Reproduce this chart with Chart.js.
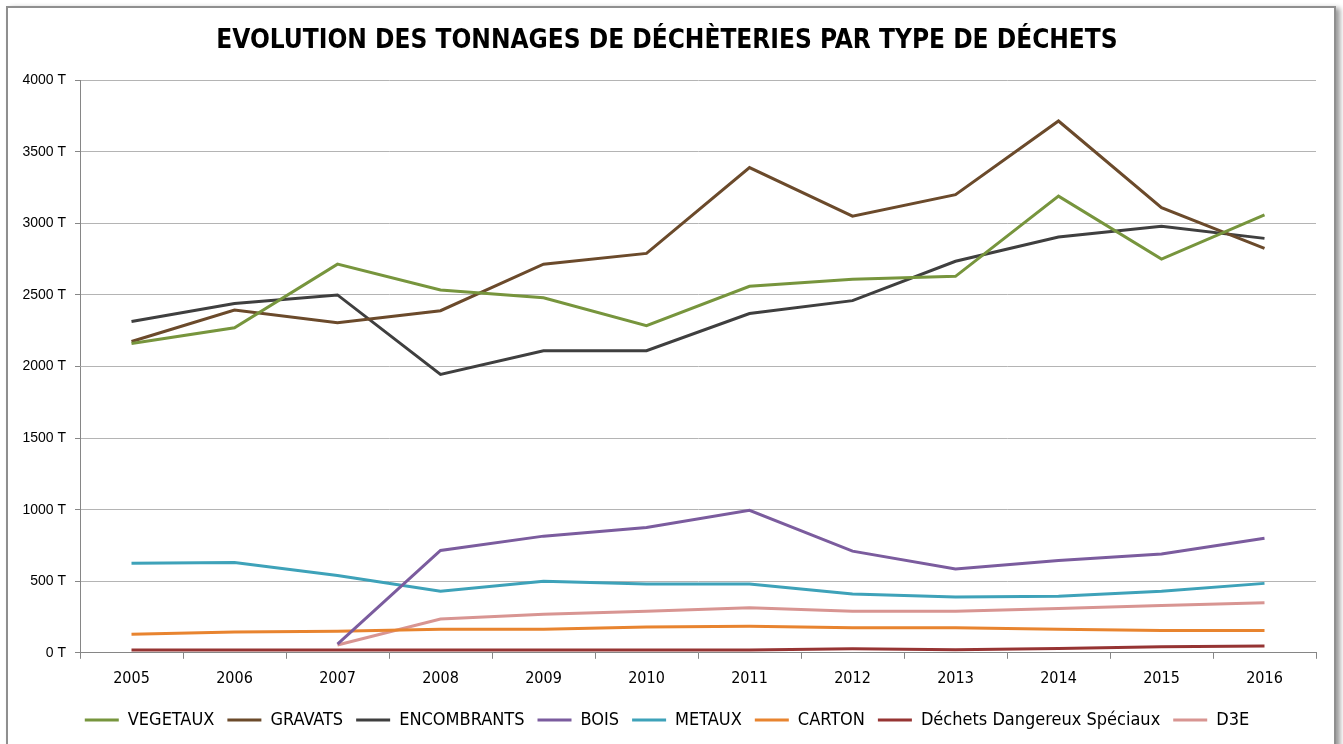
<!DOCTYPE html>
<html>
<head>
<meta charset="utf-8">
<script src="https://cdn.jsdelivr.net/npm/chart.js@4/dist/chart.umd.min.js"></script>
<style>
  body { margin: 0; background: #fff; overflow: hidden; }
  #frame {
    position: absolute; left: 6px; top: 6px; width: 1326px; height: 760px;
    border: 2px solid #8f8f8f; box-shadow: 4px 2px 5px #9a9a9a;
  }
  #wrap { position: absolute; left: 18px; top: 0; width: 1325px; height: 744px; }
</style>
</head>
<body>
<div id="frame"></div>
<div id="wrap"><canvas id="chart" width="1325" height="744"></canvas></div>
<script>
const years = ['2005', '2006', '2007', '2008', '2009', '2010', '2011', '2012', '2013', '2014', '2015', '2016'];

const vegetaux    = [2160, 2270, 2715, 2535, 2480, 2285, 2560, 2610, 2630, 3190, 2750, 3060];
const gravats     = [2175, 2395, 2305, 2390, 2715, 2790, 3390, 3050, 3200, 3715, 3110, 2825];
const encombrants = [2315, 2440, 2500, 1945, 2110, 2110, 2370, 2460, 2735, 2905, 2980, 2895];
const bois        = [null, null, 60, 715, 815, 875, 995, 710, 585, 645, 690, 800];
const metaux      = [625, 630, 540, 430, 500, 480, 480, 410, 390, 395, 430, 485];
const carton      = [130, 145, 150, 165, 165, 180, 185, 175, 175, 165, 155, 155];
const dds         = [20, 20, 20, 20, 20, 20, 20, 28, 22, 30, 42, 48];
const d3e         = [null, null, 55, 236, 270, 290, 315, 290, 290, 310, 330, 350];

const yTicks = [0, 500, 1000, 1500, 2000, 2500, 3000, 3500, 4000];

const narrow = '"DejaVu Sans Condensed", "Liberation Sans", sans-serif';

function serie(label, data, color) {
  return {
    label: label,
    data: data,
    borderColor: color,
    backgroundColor: color,
    borderWidth: 3,
    pointRadius: 0,
    tension: 0,
    spanGaps: false
  };
}

new Chart(document.getElementById('chart'), {
  type: 'line',
  data: {
    labels: years,
    datasets: [
      serie('VEGETAUX', vegetaux, '#77953d'),
      serie('GRAVATS', gravats, '#6b4a2b'),
      serie('ENCOMBRANTS', encombrants, '#3f3f3f'),
      serie('BOIS', bois, '#7b5c9e'),
      serie('METAUX', metaux, '#3ea2b9'),
      serie('CARTON', carton, '#e8842f'),
      serie('Déchets Dangereux Spéciaux', dds, '#963433'),
      serie('D3E', d3e, '#d89592')
    ]
  },
  options: {
    responsive: false,
    animation: false,
    layout: { padding: { left: 0, right: 27, top: 0, bottom: 5 } },
    plugins: {
      title: {
        display: true,
        text: 'EVOLUTION DES TONNAGES DE DÉCHÈTERIES PAR TYPE DE DÉCHETS',
        color: '#000',
        font: { family: narrow, size: 26, weight: 'bold' },
        padding: { top: 26, bottom: 23 }
      },
      legend: {
        position: 'bottom',
        labels: {
          usePointStyle: true,
          pointStyle: 'line',
          pointStyleWidth: 34,
          boxHeight: 10,
          padding: 13,
          color: '#000',
          font: { family: narrow, size: 18 }
        }
      },
      tooltip: { enabled: false }
    },
    scales: {
      x: {
        offset: true,
        grid: {
          offset: true,
          drawOnChartArea: false,
          drawTicks: true,
          tickLength: 6,
          color: '#868686'
        },
        border: { color: '#868686', width: 1 },
        ticks: {
          color: '#000',
          padding: 10,
          maxRotation: 0,
          font: { family: narrow, size: 16 }
        }
      },
      y: {
        min: 0,
        max: 4000,
        afterFit: function (scale) { scale.width = 62; },
        afterBuildTicks: function (scale) {
          scale.ticks = yTicks.map(function (v) { return { value: v }; });
        },
        grid: { color: '#b4b4b4', tickLength: 5, tickColor: '#868686' },
        border: { color: '#868686', width: 1 },
        ticks: {
          color: '#000',
          padding: 9,
          font: { family: '"Liberation Sans", Arial, sans-serif', size: 14 },
          callback: function (v) { return v + ' T'; }
        }
      }
    }
  }
});
</script>
</body>
</html>
